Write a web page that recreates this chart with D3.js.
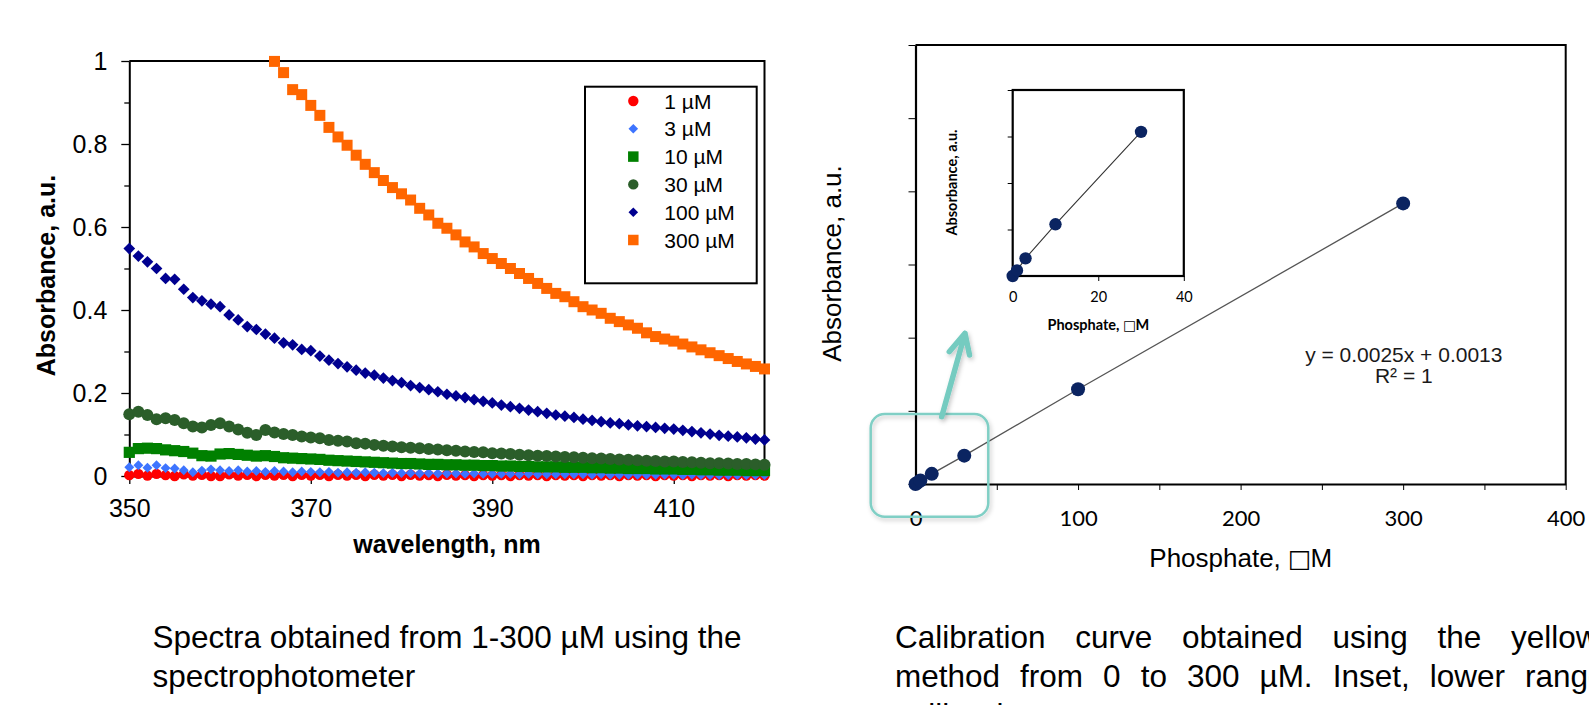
<!DOCTYPE html>
<html><head><meta charset="utf-8">
<script src="https://cdn.jsdelivr.net/npm/d3@7"></script>
<style>
html,body{margin:0;padding:0;background:#fff;overflow:hidden}
svg{display:block}
</style></head><body>
<svg id="c" width="1589" height="705"></svg>
<script>
// ---------------- DATA ----------------
const wavelengths = d3.range(350, 421, 1); // nm, 1 nm grid
const seriesLabels = ["1 µM", "3 µM", "10 µM", "30 µM", "100 µM", "300 µM"];
const abs1uM = [
  .002,.005,.001,.005,.002,.000,.004,.001,.003,.000,
  .000,.004,.001,.003,.000,.003,.001,.003,.000,.003,
  .001,.003,.000,.003,.001,.003,.000,.003,.001,.003,
  .000,.003,.001,.002,.000,.003,.001,.002,.000,.002,
  .001,.002,.000,.002,.001,.002,.000,.002,.001,.002,
  .000,.002,.001,.002,.000,.002,.001,.002,.000,.002,
  .001,.002,.000,.002,.001,.002,.000,.002,.001,.002,
  .001];
const abs3uM = [
  .021,.026,.020,.026,.019,.018,.014,.009,.013,.016,
  .014,.012,.014,.011,.012,.010,.012,.011,.009,.011,
  .010,.009,.010,.008,.009,.008,.009,.008,.007,.008,
  .007,.007,.006,.007,.006,.006,.006,.005,.006,.005,
  .005,.005,.005,.004,.005,.004,.004,.004,.004,.004,
  .004,.003,.004,.003,.003,.003,.003,.003,.003,.003,
  .003,.002,.003,.002,.002,.002,.002,.002,.002,.002,
  .002];
const abs10uM = [
  .057,.066,.067,.066,.063,.061,.059,.055,.049,.048,
  .053,.054,.052,.050,.048,.049,.047,.044,.043,.042,
  .041,.040,.038,.037,.036,.035,.034,.033,.032,.031,
  .030,.030,.029,.028,.028,.027,.027,.026,.026,.025,
  .025,.024,.024,.023,.023,.022,.022,.022,.021,.021,
  .021,.020,.020,.019,.019,.018,.018,.018,.017,.017,
  .017,.016,.016,.015,.015,.014,.014,.014,.013,.013,
  .013];
const abs30uM = [
  .149,.155,.147,.137,.139,.135,.127,.119,.117,.123,
  .127,.119,.112,.104,.099,.111,.105,.101,.099,.095,
  .093,.091,.087,.085,.083,.079,.078,.075,.073,.071,
  .069,.068,.067,.065,.064,.062,.061,.059,.058,.057,
  .055,.054,.053,.051,.050,.049,.048,.047,.046,.045,
  .044,.043,.042,.041,.040,.039,.038,.037,.036,.035,
  .035,.034,.033,.032,.031,.031,.030,.029,.029,.028,
  .027];
const abs100uM = [
  .548,.530,.516,.500,.476,.474,.450,.430,.422,.414,
  .408,.388,.376,.360,.353,.342,.332,.321,.316,.305,
  .302,.289,.279,.271,.263,.255,.248,.243,.236,.230,
  .225,.218,.213,.208,.203,.197,.193,.189,.184,.180,
  .176,.171,.167,.163,.159,.155,.151,.147,.144,.141,
  .137,.134,.131,.128,.126,.123,.121,.119,.117,.115,
  .113,.110,.107,.104,.101,.098,.096,.094,.092,.089,
  .087];
const abs300uM = [
  null,null,null,null,null,null,null,null,null,null,
  null,null,null,null,null,null,.999,.972,.931,.919,
  .893,.869,.840,.817,.797,.773,.751,.731,.712,.695,
  .680,.665,.645,.629,.609,.597,.581,.564,.552,.536,
  .524,.512,.500,.488,.476,.464,.452,.440,.432,.420,
  .408,.400,.392,.380,.372,.364,.356,.345,.336,.330,
  .325,.318,.311,.304,.297,.290,.283,.276,.270,.264,
  .258];
const leftXTicks = [350, 370, 390, 410];
const leftYTicks = [0, 0.2, 0.4, 0.6, 0.8, 1];
const leftYMinor = [0.1, 0.3, 0.5, 0.7, 0.9];

const phosphateConc = [0, 1, 3, 10, 30, 100, 300];
const phosphateAbs  = [0, 0.003, 0.0095, 0.0278, 0.0775, 0.259, 0.767];
const mainXTicks = [0, 50, 100, 150, 200, 250, 300, 350, 400];
const mainXLabels = [0, 100, 200, 300, 400];
const mainYTicks = [0, 0.2, 0.4, 0.6, 0.8, 1.0, 1.2];
const insetXTicks = [0, 20, 40];
const insetYTicks = [0, 0.025, 0.05, 0.075, 0.1];
const insetMaxConc = 40;

// ---------------- SETUP ----------------
const ARIAL = "'Liberation Sans', Arial, sans-serif";
const CALIBRI = "Lato, 'Open Sans', sans-serif";
const BOXFONT = "'DejaVu Sans', sans-serif";
const svg = d3.select("#c");
svg.append("rect").attr("width", 1589).attr("height", 705).attr("fill", "#fff");
const defs = svg.append("defs");
const flt = defs.append("filter").attr("id", "shadow")
  .attr("x", "-30%").attr("y", "-30%").attr("width", "160%").attr("height", "160%");
flt.append("feDropShadow").attr("dx", 1.5).attr("dy", 2.5).attr("stdDeviation", 2)
  .attr("flood-color", "#000").attr("flood-opacity", 0.22);

function markerPath(shape, size) {
  if (shape === "circle") return d3.symbol(d3.symbolCircle, Math.PI * size * size)();
  return d3.symbol(d3.symbolSquare, size * size)();
}
// text with a missing-glyph box before the M
function boxedUnit(sel, prefix, fontSize, mdx) {
  sel.append("tspan").text(prefix);
  sel.append("tspan").style("font-family", BOXFONT).style("font-weight", "normal")
    .style("font-size", (fontSize * 0.95) + "px").text("\u25A1");
  sel.append("tspan").attr("dx", mdx).text("M");
}

// ---------------- LEFT CHART ----------------
const xL = d3.scaleLinear().domain([350, 420]).range([129.3, 764.5]);
const yL = d3.scaleLinear().domain([0, 1]).range([476, 61]);
const gL = svg.append("g");

gL.append("path")
  .attr("d", `M${xL(350)},${yL(1)}H${xL(420)}V${yL(0)}`)
  .attr("fill", "none").attr("stroke", "#000").attr("stroke-width", 2);

const yMinorAx = gL.append("g").attr("transform", `translate(${xL(350)},0)`)
  .call(d3.axisLeft(yL).tickValues(leftYMinor).tickSize(5).tickFormat(""));
yMinorAx.select(".domain").remove();
yMinorAx.selectAll("line").attr("stroke", "#000").attr("stroke-width", 1.3);

const yAxL = gL.append("g").attr("transform", `translate(${xL(350)},0)`)
  .call(d3.axisLeft(yL).tickValues(leftYTicks).tickSize(8).tickSizeOuter(0)
    .tickFormat(d => (d === 0 || d === 1) ? String(d) : d.toFixed(1)));
yAxL.select(".domain").attr("stroke", "#000").attr("stroke-width", 2);
yAxL.selectAll("line").attr("stroke", "#000").attr("stroke-width", 1.3);
yAxL.selectAll("text").attr("x", -22).attr("dy", "0.35em")
  .style("font-family", ARIAL).style("font-size", "25px").attr("fill", "#000");

const xAxL = gL.append("g").attr("transform", `translate(0,${yL(0)})`)
  .call(d3.axisBottom(xL).tickValues(leftXTicks).tickSize(8).tickSizeOuter(0));
xAxL.select(".domain").attr("stroke", "#000").attr("stroke-width", 2);
xAxL.selectAll("line").attr("stroke", "#000").attr("stroke-width", 1.3);
xAxL.selectAll("text").attr("y", 40.7).attr("dy", 0)
  .style("font-family", ARIAL).style("font-size", "25px").attr("fill", "#000");

gL.append("text").attr("transform", "translate(55,275.5) rotate(-90)")
  .attr("text-anchor", "middle").style("font-family", ARIAL)
  .style("font-size", "25px").style("font-weight", "bold").text("Absorbance, a.u.");
gL.append("text").attr("x", 447).attr("y", 553).attr("text-anchor", "middle")
  .style("font-family", ARIAL).style("font-size", "25px").style("font-weight", "bold")
  .text("wavelength, nm");

const seriesValues = [abs1uM, abs3uM, abs10uM, abs30uM, abs100uM, abs300uM];
const seriesStyle = [
  {color: "#ff0000", shape: "circle",  size: 5.2},
  {color: "#3d74ff", shape: "diamond", size: 7.0},
  {color: "#008000", shape: "square",  size: 11.2},
  {color: "#2b5e2a", shape: "circle",  size: 6.0},
  {color: "#000090", shape: "diamond", size: 8.3},
  {color: "#ff6600", shape: "square",  size: 11}
];

seriesValues.forEach((vals, si) => {
  const st = seriesStyle[si];
  const pts = wavelengths.map((w, i) => ({w, v: vals[i]})).filter(p => p.v !== null);
  gL.append("g").selectAll("path").data(pts).join("path")
    .attr("d", markerPath(st.shape, st.size))
    .attr("transform", p => `translate(${xL(p.w)},${yL(p.v)})` + (st.shape === "diamond" ? " rotate(45)" : ""))
    .attr("fill", st.color);
});

// legend
const lg = gL.append("g");
lg.append("rect").attr("x", 585).attr("y", 86.7).attr("width", 171.7).attr("height", 196.6)
  .attr("fill", "#fff").attr("stroke", "#000").attr("stroke-width", 2);
seriesLabels.forEach((lab, i) => {
  const st = seriesStyle[i];
  const y = 101 + i * 27.8;
  const sz = st.shape === "circle" ? 5.2 : (st.shape === "diamond" ? 6.8 : 10.5);
  lg.append("path").attr("d", markerPath(st.shape, sz))
    .attr("transform", `translate(633.3,${y})` + (st.shape === "diamond" ? " rotate(45)" : ""))
    .attr("fill", st.color);
  lg.append("text").attr("x", 664.3).attr("y", y).attr("dy", "0.36em")
    .style("font-family", ARIAL).style("font-size", "21px").text(lab);
});

// ---------------- RIGHT CHART ----------------
const xR = d3.scaleLinear().domain([0, 400]).range([915.5, 1565.7]);
const yR = d3.scaleLinear().domain([0, 1.2]).range([484, 45]);
const gR = svg.append("g");

gR.append("path").attr("d", `M${xR(0)},${yR(1.2)}H${xR(400)}V${yR(0)}`)
  .attr("fill", "none").attr("stroke", "#000").attr("stroke-width", 2);

const yAxR = gR.append("g").attr("transform", `translate(${xR(0)},0)`)
  .call(d3.axisLeft(yR).tickValues(mainYTicks).tickSize(7).tickSizeOuter(0).tickFormat(""));
yAxR.select(".domain").attr("stroke", "#000").attr("stroke-width", 2.2);
yAxR.selectAll("line").attr("stroke", "#000").attr("stroke-width", 1);

const xAxR = gR.append("g").attr("transform", `translate(0,${yR(0)})`)
  .call(d3.axisBottom(xR).tickValues(mainXTicks).tickSize(6).tickSizeOuter(0)
    .tickFormat(d => mainXLabels.includes(d) ? String(d) : ""));
xAxR.select(".domain").attr("stroke", "#000").attr("stroke-width", 2.2);
xAxR.selectAll("line").attr("stroke", "#000").attr("stroke-width", 1);
xAxR.selectAll("text").attr("y", 42).attr("dy", 0)
  .style("font-family", CALIBRI).style("font-size", "22px").attr("fill", "#000");

gR.append("text").attr("transform", "translate(841,263.5) rotate(-90)")
  .attr("text-anchor", "middle").style("font-family", ARIAL).style("font-size", "26px")
  .text("Absorbance, a.u.");
const mainXTitle = gR.append("text").attr("x", 1149.3).attr("y", 566.7)
  .style("font-family", ARIAL).style("font-size", "26px");
boxedUnit(mainXTitle, "Phosphate, ", 26, -1);

const calPts = phosphateConc.map((c, i) => ({c, a: phosphateAbs[i]}));
gR.append("path").datum(calPts)
  .attr("d", d3.line().x(p => xR(p.c)).y(p => yR(p.a)))
  .attr("fill", "none").attr("stroke", "#555").attr("stroke-width", 1.3);
gR.append("g").selectAll("circle").data(calPts).join("circle")
  .attr("cx", p => xR(p.c)).attr("cy", p => yR(p.a)).attr("r", 7).attr("fill", "#0b2461");

gR.append("text").attr("x", 1403.8).attr("y", 361.7).attr("text-anchor", "middle")
  .style("font-family", ARIAL).style("font-size", "21px").attr("fill", "#1a1a1a")
  .text("y = 0.0025x + 0.0013");
gR.append("text").attr("x", 1403.8).attr("y", 383.3).attr("text-anchor", "middle")
  .style("font-family", ARIAL).style("font-size", "21px").attr("fill", "#1a1a1a")
  .text("R\u00B2 = 1");

// ---------------- INSET ----------------
const xI = d3.scaleLinear().domain([0, 40]).range([1012.7, 1183.8]);
const yI = d3.scaleLinear().domain([0, 0.1]).range([276, 90]);
const gI = svg.append("g");
gI.append("rect").attr("x", xI(0)).attr("y", yI(0.1))
  .attr("width", xI(40) - xI(0)).attr("height", yI(0) - yI(0.1))
  .attr("fill", "#fff").attr("stroke", "#000").attr("stroke-width", 2.2);
const yAxI = gI.append("g").attr("transform", `translate(${xI(0)},0)`)
  .call(d3.axisLeft(yI).tickValues(insetYTicks).tickSize(5).tickSizeOuter(0).tickFormat(""));
yAxI.select(".domain").remove();
yAxI.selectAll("line").attr("stroke", "#000").attr("stroke-width", 1);
const xAxI = gI.append("g").attr("transform", `translate(0,${yI(0)})`)
  .call(d3.axisBottom(xI).tickValues(insetXTicks).tickSize(5).tickSizeOuter(0));
xAxI.select(".domain").remove();
xAxI.selectAll("line").attr("stroke", "#000").attr("stroke-width", 1);
xAxI.selectAll("text").attr("y", 25.7).attr("dy", 0)
  .style("font-family", CALIBRI).style("font-size", "14.5px").attr("fill", "#000");

gI.append("text").attr("transform", "translate(956.5,182.5) rotate(-90)")
  .attr("text-anchor", "middle").style("font-family", CALIBRI).style("font-size", "14.5px")
  .style("font-weight", "bold").text("Absorbance, a.u.");
const insetXTitle = gI.append("text").attr("x", 1098.3).attr("y", 330).attr("text-anchor", "middle")
  .style("font-family", CALIBRI).style("font-size", "14.5px").style("font-weight", "bold");
boxedUnit(insetXTitle, "Phosphate, ", 14.5, -0.5);

const insetPts = calPts.filter(p => p.c <= insetMaxConc);
gI.append("path").datum(insetPts)
  .attr("d", d3.line().x(p => xI(p.c)).y(p => yI(p.a)))
  .attr("fill", "none").attr("stroke", "#333").attr("stroke-width", 1.1);
gI.append("g").selectAll("circle").data(insetPts).join("circle")
  .attr("cx", p => xI(p.c)).attr("cy", p => yI(p.a)).attr("r", 6.2).attr("fill", "#0b2461");

// ---------------- ANNOTATION ----------------
const teal = "#74cbc0";
svg.append("rect").attr("x", 870.7).attr("y", 414).attr("width", 117.6).attr("height", 102.7)
  .attr("rx", 14).attr("fill", "none").attr("stroke", "#80cfc5").attr("stroke-width", 2.5)
  .attr("filter", "url(#shadow)");
svg.append("path")
  .attr("d", "M941.7,416.7L965,333.3M949.3,351.7L965,333.3L969.5,355")
  .attr("fill", "none").attr("stroke", teal).attr("stroke-width", 5.5)
  .attr("stroke-linecap", "round").attr("stroke-linejoin", "round")
  .attr("filter", "url(#shadow)");

// ---------------- CAPTIONS ----------------
const cap = svg.append("g").style("font-family", ARIAL).style("font-size", "31.5px").attr("fill", "#000");
cap.append("text").attr("x", 152.5).attr("y", 648).text("Spectra obtained from 1-300 µM using the");
cap.append("text").attr("x", 152.5).attr("y", 687).text("spectrophotometer");

// justified caption: first word starts at x0, last visible word starts at xLast
const rightCaption = [
  {y: 648, x0: 894.9, xLast: 1511, words: ["Calibration", "curve", "obtained", "using", "the", "yellow"]},
  {y: 687, x0: 895, xLast: 1525, words: ["method", "from", "0", "to", "300", "µM.", "Inset,", "lower", "range"]},
  {y: 726, x0: 895, xLast: null, words: ["calibration."]}
];
rightCaption.forEach(line => {
  const nodes = line.words.map(w => cap.append("text").attr("y", line.y).text(w));
  if (line.xLast === null) { nodes[0].attr("x", line.x0); return; }
  const widths = nodes.slice(0, -1).map(n => n.node().getComputedTextLength());
  const gap = (line.xLast - line.x0 - d3.sum(widths)) / (nodes.length - 1);
  let x = line.x0;
  nodes.forEach((n, i) => { n.attr("x", x); if (i < widths.length) x += widths[i] + gap; });
});
</script>
</body></html>
